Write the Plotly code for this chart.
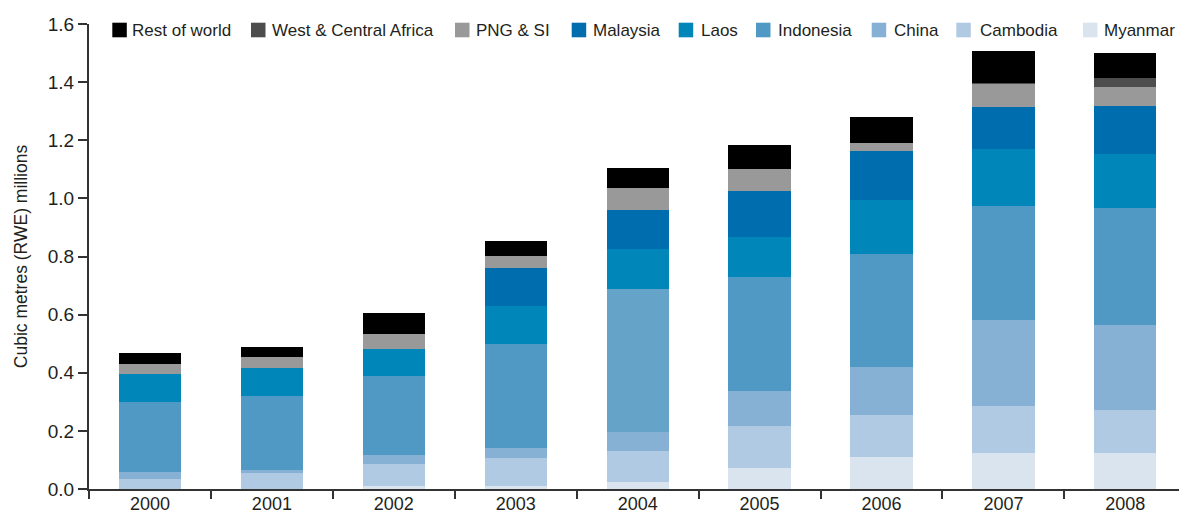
import plotly.graph_objects as go

years = ["2000", "2001", "2002", "2003", "2004", "2005", "2006", "2007", "2008"]

myanmar   = [0.000, 0.000, 0.010, 0.010, 0.024, 0.072, 0.110, 0.124, 0.124]
cambodia  = [0.034, 0.055, 0.076, 0.097, 0.107, 0.145, 0.145, 0.162, 0.148]
china     = [0.024, 0.010, 0.031, 0.034, 0.065, 0.120, 0.165, 0.296, 0.292]
indonesia = [0.242, 0.255, 0.272, 0.358, 0.492, 0.393, 0.388, 0.392, 0.403]
laos      = [0.097, 0.096, 0.093, 0.131, 0.138, 0.137, 0.186, 0.196, 0.186]
malaysia  = [0.000, 0.000, 0.000, 0.130, 0.134, 0.158, 0.169, 0.145, 0.165]
png_si    = [0.034, 0.038, 0.051, 0.042, 0.076, 0.076, 0.028, 0.079, 0.065]
wc_africa = [0.000, 0.000, 0.000, 0.000, 0.000, 0.000, 0.000, 0.003, 0.031]
rest      = [0.037, 0.035, 0.073, 0.051, 0.069, 0.083, 0.089, 0.110, 0.086]

series_names = ["Myanmar", "Cambodia", "China", "Indonesia", "Laos",
                "Malaysia", "PNG & SI", "West & Central Africa", "Rest of world"]
series_values = [myanmar, cambodia, china, indonesia, laos,
                 malaysia, png_si, wc_africa, rest]
series_colors = ["#d9e4ef", "#b1cae3", "#86b1d5", "#5199c5", "#0086b9",
                 "#006eae", "#999999", "#4d4d4d", "#000000"]
indonesia_2004_color = "#66a3c9"

# figure geometry (pixels)
W, H = 1179, 514
ML, MR, MT, MB = 89, 0, 24, 25
PW, PH = W - ML - MR, H - MT - MB

def px_x(px):
    return (px - ML) / PW

def px_y(py):
    return (H - MB - py) / PH

fig = go.Figure()
for name, vals, col in zip(series_names, series_values, series_colors):
    if name == "Indonesia":
        col = [indonesia_2004_color if y == "2004" else col for y in years]
    fig.add_trace(go.Bar(
        x=years, y=vals, name=name,
        marker=dict(color=col, line=dict(width=0)),
        width=0.51, showlegend=False,
    ))

# custom legend (top row, reversed order)
legend_swatch_px = [112.3, 251.0, 455.0, 571.7, 678.7, 756.0, 871.7, 956.3, 1083.0]
legend_text_px = [131.7, 271.7, 476.0, 592.7, 700.7, 778.3, 894.3, 980.0, 1104.0]
for i, (name, col) in enumerate(zip(series_names[::-1], series_colors[::-1])):
    sx = legend_swatch_px[i]
    fig.add_shape(type="rect", xref="paper", yref="paper",
                  x0=px_x(sx), x1=px_x(sx + 14.5), y0=px_y(37.3), y1=px_y(22.7),
                  fillcolor=col, line=dict(width=0), layer="above")
    fig.add_annotation(xref="paper", yref="paper", x=px_x(legend_text_px[i] - 2),
                       y=px_y(30.5), xanchor="left", yanchor="middle",
                       text=name, showarrow=False,
                       font=dict(size=17, color="#231f20"))

fig.update_layout(
    barmode="stack",
    width=W, height=H,
    margin=dict(l=ML, r=MR, t=MT, b=MB, autoexpand=False),
    paper_bgcolor="white", plot_bgcolor="white",
    font=dict(family="Liberation Sans, Arial, sans-serif", size=17, color="#231f20"),
    showlegend=False,
)
fig.update_xaxes(
    type="category", range=[-0.5, 8.44], automargin=False,
    showline=True, linecolor="#333333", linewidth=2,
    ticks="outside", tickson="boundaries", ticklen=8, tickwidth=2, tickcolor="#333333",
    showgrid=False, tickfont=dict(size=18), ticklabelstandoff=-3,
)
fig.update_yaxes(
    range=[0, 1.6], dtick=0.2, tickformat=".1f", automargin=False,
    showline=True, linecolor="#333333", linewidth=2,
    ticks="outside", ticklen=9, tickwidth=2, tickcolor="#333333",
    showgrid=False, zeroline=False, tickfont=dict(size=19),
    title=dict(text="Cubic metres (RWE) millions", font=dict(size=17.5), standoff=16),
)

fig.write_html("out.html", config={"displayModeBar": False},
               post_script="document.body.style.margin='0px';")
